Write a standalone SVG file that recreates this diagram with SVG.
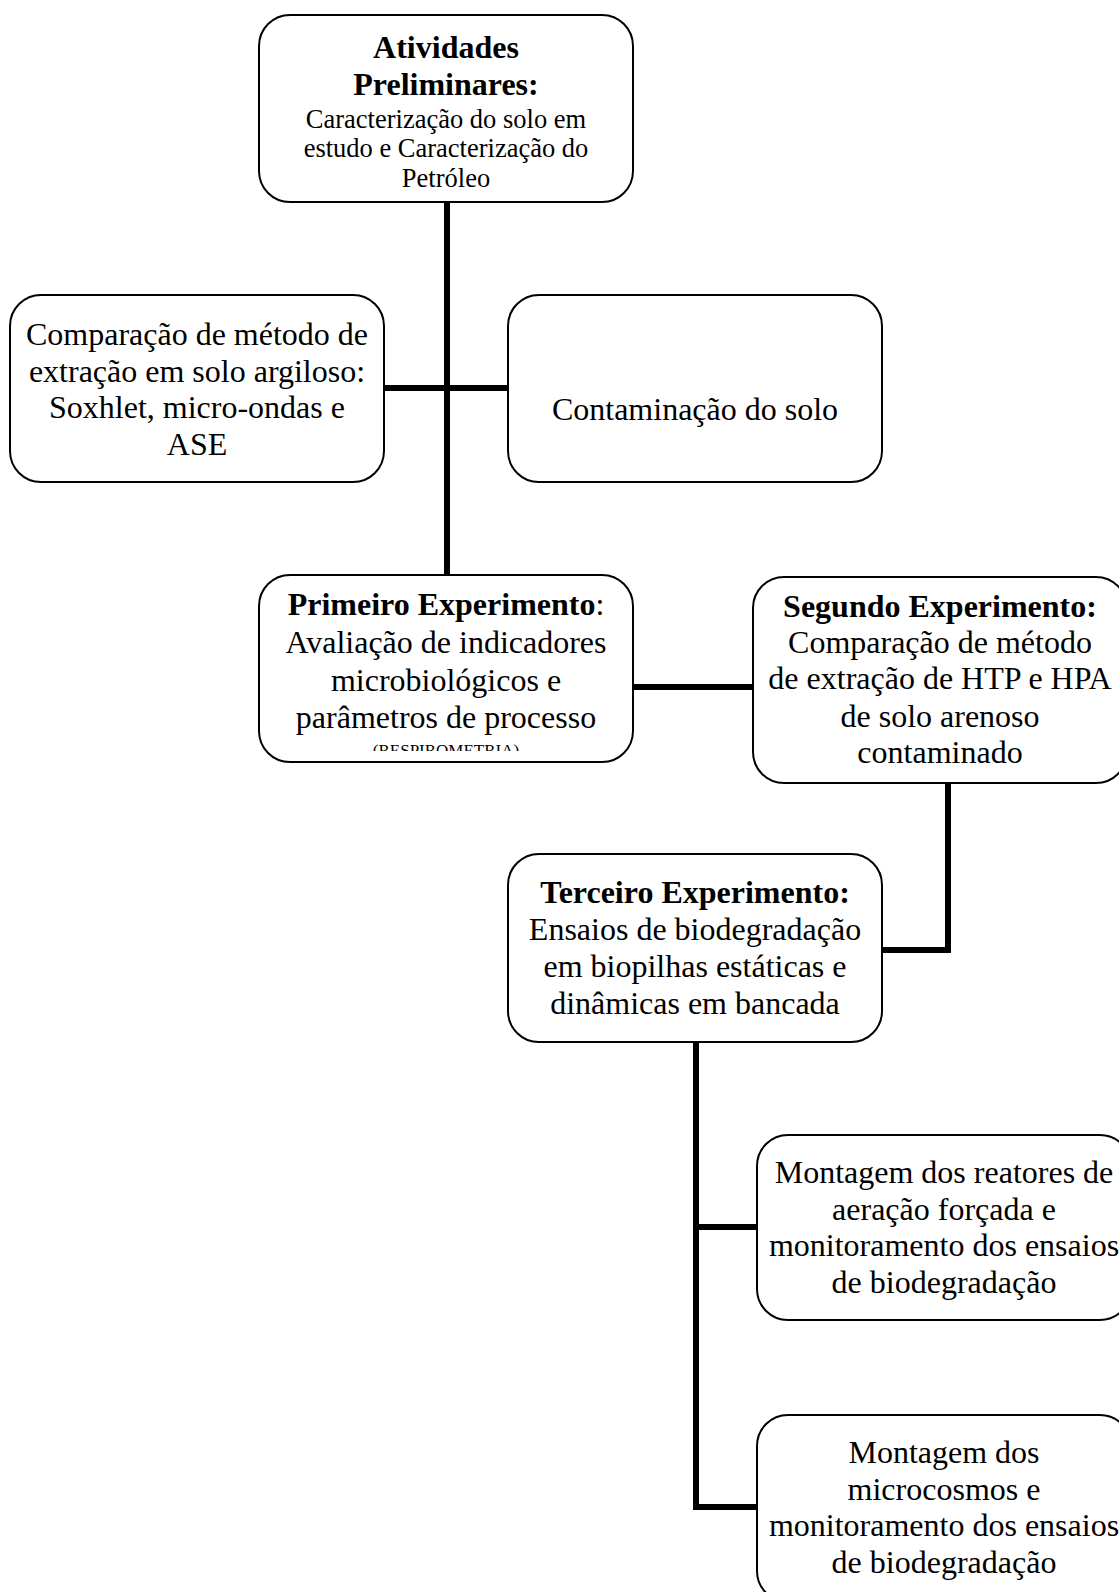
<svg xmlns="http://www.w3.org/2000/svg" width="1119" height="1592" viewBox="0 0 1119 1592">
<style>
.box{fill:#fff;stroke:#000;stroke-width:2}
.t{font-family:"Liberation Serif","Times New Roman",serif;font-size:32px;fill:#000;text-anchor:middle}
.b{font-weight:bold}
.s{font-size:26.5px}
.xs{font-size:17px}
.c{fill:none;stroke:#000;stroke-width:6}
</style>
<defs>
<clipPath id="clipP"><rect x="259" y="738" width="374" height="13"/></clipPath>
</defs>
<rect width="1119" height="1592" fill="#fff"/>
<g id="connectors">
<line class="c" x1="447" y1="202" x2="447" y2="575"/>
<line class="c" x1="383" y1="388" x2="508" y2="388"/>
<line class="c" x1="633" y1="687" x2="753" y2="687"/>
<polyline class="c" points="948,783 948,950 882,950"/>
<polyline class="c" points="696,1042 696,1507 757,1507"/>
<line class="c" x1="696" y1="1227" x2="757" y2="1227"/>
</g>
<g id="n-atividades">
<rect class="box" x="259" y="15" width="374" height="187" rx="31"/>
<text class="t b" x="446" y="58">Atividades</text>
<text class="t b" x="446" y="95">Preliminares:</text>
<text class="t s" x="446" y="128">Caracterização do solo em</text>
<text class="t s" x="446" y="157">estudo e Caracterização do</text>
<text class="t s" x="446" y="187">Petróleo</text>
</g>
<g id="n-comparacao">
<rect class="box" x="10" y="295" width="374" height="187" rx="31"/>
<text class="t" x="197" y="345">Comparação de método de</text>
<text class="t" x="197" y="382">extração em solo argiloso:</text>
<text class="t" x="197" y="418">Soxhlet, micro-ondas e</text>
<text class="t" x="197" y="455">ASE</text>
</g>
<g id="n-contaminacao">
<rect class="box" x="508" y="295" width="374" height="187" rx="31"/>
<text class="t" x="695" y="420">Contaminação do solo</text>
</g>
<g id="n-primeiro">
<rect class="box" x="259" y="575" width="374" height="187" rx="31"/>
<text class="t" x="446" y="615"><tspan class="b">Primeiro Experimento</tspan>:</text>
<text class="t" x="446" y="653">Avaliação de indicadores</text>
<text class="t" x="446" y="691">microbiológicos e</text>
<text class="t" x="446" y="728">parâmetros de processo</text>
<text class="t xs" x="446" y="756" clip-path="url(#clipP)">(RESPIROMETRIA)</text>
</g>
<g id="n-segundo">
<rect class="box" x="753" y="577" width="374" height="206" rx="31"/>
<text class="t b" x="940" y="617">Segundo Experimento:</text>
<text class="t" x="940" y="653">Comparação de método</text>
<text class="t" x="940" y="689">de extração de HTP e HPA</text>
<text class="t" x="940" y="727">de solo arenoso</text>
<text class="t" x="940" y="763">contaminado</text>
</g>
<g id="n-terceiro">
<rect class="box" x="508" y="854" width="374" height="188" rx="31"/>
<text class="t b" x="695" y="903">Terceiro Experimento:</text>
<text class="t" x="695" y="940">Ensaios de biodegradação</text>
<text class="t" x="695" y="977">em biopilhas estáticas e</text>
<text class="t" x="695" y="1014">dinâmicas em bancada</text>
</g>
<g id="n-reatores">
<rect class="box" x="757" y="1135" width="374" height="185" rx="31"/>
<text class="t" x="944" y="1183">Montagem dos reatores de</text>
<text class="t" x="944" y="1220">aeração forçada e</text>
<text class="t" x="944" y="1256">monitoramento dos ensaios</text>
<text class="t" x="944" y="1293">de biodegradação</text>
</g>
<g id="n-microcosmos">
<rect class="box" x="757" y="1415" width="374" height="187" rx="31"/>
<text class="t" x="944" y="1463">Montagem dos</text>
<text class="t" x="944" y="1500">microcosmos e</text>
<text class="t" x="944" y="1536">monitoramento dos ensaios</text>
<text class="t" x="944" y="1573">de biodegradação</text>
</g>
</svg>
